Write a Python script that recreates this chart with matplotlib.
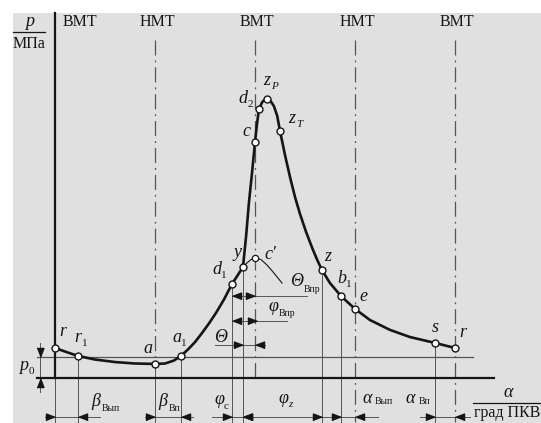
import matplotlib
matplotlib.use('Agg')
import matplotlib.pyplot as plt
from matplotlib.patches import Rectangle

W, H = 541, 423

# crank angle of the dead centres, deg
dc_phi = [0, 180, 360, 540, 720]
dc_names = ['ВМТ', 'НМТ', 'ВМТ', 'НМТ', 'ВМТ']

p0 = 0.1  # ambient pressure, MPa

# indicator curve p(phi)
phi_curve = [0, 18, 41.4, 72, 108, 144, 180, 198, 214, 226.8,
             239.4, 252, 264.6, 277.2, 289.8, 304.2, 318.6, 329, 338.4, 344,
             349, 355, 360, 364, 367.2, 373, 377, 381.6, 388, 394,
             400, 405, 414, 423, 432, 441, 452, 463, 472, 480.6,
             495, 514.8, 540, 567, 603, 639, 684, 720]
p_curve = [0.143, 0.126, 0.105, 0.088, 0.076, 0.069, 0.067, 0.069, 0.083, 0.105,
           0.136, 0.171, 0.214, 0.260, 0.310, 0.374, 0.448, 0.490, 0.529, 0.676,
           0.833, 0.986, 1.124, 1.219, 1.281, 1.314, 1.324, 1.329, 1.319, 1.295,
           1.248, 1.176, 1.062, 0.957, 0.862, 0.781, 0.695, 0.619, 0.562, 0.514,
           0.452, 0.390, 0.329, 0.276, 0.229, 0.195, 0.167, 0.143]

# compression without combustion (c')
phi_mot = [338.4, 345.6, 352.8, 360, 370.8, 381.6, 392.4, 401.4, 408.6]
p_mot = [0.529, 0.548, 0.564, 0.571, 0.564, 0.538, 0.505, 0.476, 0.452]

# marked points on the curve
mark_phi = [0, 41.4, 180, 226.8, 318.6, 338.4, 360, 367.2, 381.6, 405, 480.6, 514.8, 540, 684, 720]
mark_name = ['r', 'r', 'a', 'a', 'd', 'y', 'c', 'd', 'z', 'z', 'z', 'b', 'e', 's', 'r']
mark_sub = ['', '1', '', '1', '1', '', '', '2', 'P', 'T', '', '1', '', '', '']
mark_off = [(8, 16), (0, 18), (-7, 15), (-4, 18), (-15, 14), (-6, 14), (-9, 10), (-16, 10),
            (0, 18), (12, 13), (6, 14), (1, 18), (8, 12), (0, 15), (8, 15)]

# angle intervals (phi1, phi2, arrows inside/outside)
dims_bottom = [(0, 41.4, 'out'), (180, 226.8, 'out'), (318.6, 338.4, 'out'),
               (338.4, 480.6, 'in'), (514.8, 540, 'out'), (684, 720, 'out')]
dim_lines_bottom = [(-18, 81), (162, 248.4), (282.6, 581.4), (657, 747)]
p_dim_bottom = -0.186
ext_phi = [0, 41.4, 180, 226.8, 318.6, 338.4, 480.6, 514.8, 684]

# upper intervals: (phi1, phi2, p level, arrows, line from, line to)
dims_upper = [(318.6, 360, 0.390, 'in', 318.6, 453.6),   # Theta_vpr
              (318.6, 363.6, 0.271, 'in', 318.6, 417.6),  # phi_vpr
              (338.4, 360, 0.157, 'out', 288, 378)]       # Theta

INK = '#151515'
THIN = '#555555'
SERIF = ['Liberation Serif', 'DejaVu Serif']

fig = plt.figure(figsize=(W / 100, H / 100), dpi=100)
fig.patch.set_facecolor('white')
fig.patches.append(Rectangle((13 / W, 0), 1 - 13 / W, 1 - 13 / H, transform=fig.transFigure,
                             facecolor='#e0e0e0', edgecolor='none', zorder=-5))
ax = fig.add_axes([0, 0, 1, 1])
ax.set_zorder(1)
ax.set_xlim(-99, 874.8)
ax.set_ylim(-0.2143, 1.8)
ax.axis('off')

def p_at(phi):
    return p_curve[phi_curve.index(phi)]

ARROWS = {'r': [(0, 0), (-1, 0.38), (-1, -0.38)], 'l': [(0, 0), (1, 0.38), (1, -0.38)],
          'd': [(0, 0), (0.38, 1), (-0.38, 1)], 'u': [(0, 0), (0.38, -1), (-0.38, -1)]}

def tip(phi, p, d):
    ax.plot([phi], [p], ls='none', marker=ARROWS[d], ms=13, color=INK, zorder=6)

def dim(phi1, phi2, p, kind):
    if kind == 'in':
        tip(phi1, p, 'l'); tip(phi2, p, 'r')
    else:
        tip(phi1, p, 'r'); tip(phi2, p, 'l')

def ftext(x, y, s, size=13, italic=True, ha='center'):
    fig.text(x / W, 1 - y / H, s, fontsize=size, family=SERIF, color=INK,
             fontstyle='italic' if italic else 'normal', ha=ha, va='center', zorder=3)

bottom = -0.21
top_dc = 1.61

# axes
ax.plot([0, 0], [0, 1.738], color=INK, lw=1.6, zorder=3)
ax.plot([-32.4, 790.2], [0, 0], color=INK, lw=1.6, zorder=3)
ax.plot([-32.4, 752.4], [p0, p0], color=THIN, lw=0.9, zorder=2)

# dead centre lines
dc_end = [p_at(180), 0, bottom, bottom]
for phi, end in zip(dc_phi[1:], dc_end):
    ax.plot([phi, phi], [top_dc, end], color=THIN, lw=0.9, ls=(0, (12, 4, 1.5, 4)), zorder=2)
for i, (phi, name) in enumerate(zip(dc_phi, dc_names)):
    x, _ = ax.transData.transform((phi, 0))
    if i == 0:
        ftext(x + 8, 22, name, size=11.5, italic=False, ha='left')
    else:
        ftext(x + 2, 22, name, size=11.5, italic=False)

# extension lines
for phi in ext_phi:
    ax.plot([phi, phi], [p_at(phi), bottom], color=THIN, lw=0.7, zorder=2)

# dimension lines
for a, b in dim_lines_bottom:
    ax.plot([a, b], [p_dim_bottom, p_dim_bottom], color=THIN, lw=0.7, zorder=2)
for a, b, kind in dims_bottom:
    dim(a, b, p_dim_bottom, kind)
for a, b, p, kind, l1, l2 in dims_upper:
    ax.plot([l1, l2], [p, p], color=THIN, lw=0.7, zorder=2)
    dim(a, b, p, kind)

# p0 dimension
ax.plot([-27, -27], [0.167, -0.067], color=THIN, lw=0.7, zorder=2)
tip(-27, p0, 'd')
tip(-27, 0, 'u')

# curves
ax.plot(phi_curve, p_curve, color=INK, lw=1.9, zorder=4, solid_joinstyle='round')
ax.plot(phi_mot, p_mot, color=INK, lw=0.8, zorder=4)
ax.plot(mark_phi, [p_at(f) for f in mark_phi], ls='none', marker='o', ms=5,
        mfc='white', mec=INK, mew=1.0, zorder=5)
ax.plot([phi_mot[3]], [p_mot[3]], ls='none', marker='o', ms=4.5,
        mfc='white', mec=INK, mew=0.9, zorder=5)

# point labels
for phi, name, sub, (dx, dy) in zip(mark_phi, mark_name, mark_sub, mark_off):
    p = p_at(phi)
    ax.annotate(name, (phi, p), xytext=(dx, dy), textcoords='offset pixels',
                ha='center', va='center', fontsize=13, family=SERIF, fontstyle='italic', color=INK)
    if sub:
        ax.annotate(sub, (phi, p), xytext=(dx + 7, dy - 6), textcoords='offset pixels',
                    ha='center', va='center', fontsize=8, family=SERIF, color=INK,
                    fontstyle='italic' if sub in 'PT' else 'normal')
ax.annotate('c\u2032', (phi_mot[3], p_mot[3]), xytext=(15, 4), textcoords='offset pixels',
            ha='center', va='center', fontsize=13, family=SERIF, fontstyle='italic', color=INK)

# axis captions
ftext(30, 21, 'p')
fig.lines.append(plt.Line2D([13 / W, 45 / W], [1 - 32 / H] * 2, transform=fig.transFigure, color=INK, lw=0.9))
ftext(29, 44, 'МПа', size=11.5, italic=False)
ftext(508, 392, 'α')
fig.lines.append(plt.Line2D([473 / W, 1], [1 - 403 / H] * 2, transform=fig.transFigure, color=INK, lw=0.9))
ftext(507, 413, 'град ПКВ', size=11.5, italic=False)
ftext(24, 365, 'p')
ftext(31, 371, '0', size=8, italic=False)

# angle labels
ftext(96, 401, 'β')
ftext(102, 408, 'Вып', size=7, italic=False, ha='left')
ftext(163, 401, 'β')
ftext(169, 408, 'Вп', size=7, italic=False, ha='left')
ftext(219, 399, 'φ')
ftext(224, 406, 'c', size=8, italic=False, ha='left')
ftext(283, 398, 'φ')
ftext(288, 404, 'z', size=8, ha='left')
ftext(367, 398, 'α')
ftext(375, 401, 'Вып', size=7, italic=False, ha='left')
ftext(410, 398, 'α')
ftext(419, 401, 'Вп', size=7, italic=False, ha='left')
ftext(221, 337, 'Θ')
ftext(273, 306, 'φ')
ftext(279, 314, 'Впр', size=7, italic=False, ha='left')
ftext(297, 282, 'Θ')
ftext(304, 290, 'Впр', size=7, italic=False, ha='left')

fig.savefig('out.png', dpi=100, facecolor='white')
